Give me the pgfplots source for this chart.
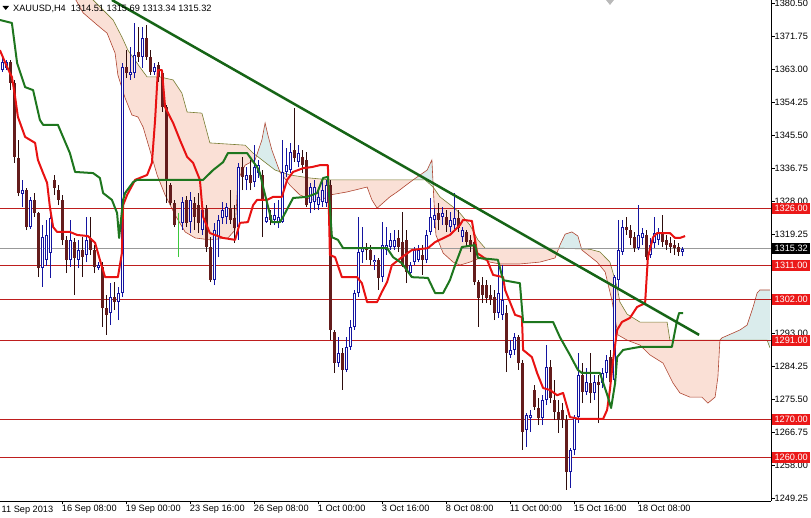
\documentclass[border=0pt]{standalone}
\usepackage{fontspec}
\setmainfont{Liberation Sans}
\usepackage{pgfplots}
\pgfplotsset{compat=1.18}
\usepackage{pgfplotstable}

\definecolor{bullc}{RGB}{20,20,160}
\definecolor{bearbody}{RGB}{100,28,28}
\definecolor{bearwick}{RGB}{45,12,12}
\definecolor{tenkan}{RGB}{232,18,18}
\definecolor{kijun}{RGB}{30,118,30}
\definecolor{trend}{RGB}{22,100,22}
\definecolor{spana}{RGB}{175,70,50}
\definecolor{spanb}{RGB}{120,125,50}
\definecolor{cloudr}{RGB}{250,224,214}
\definecolor{cloudt}{RGB}{218,236,236}
\definecolor{level}{RGB}{190,30,30}
\definecolor{levbox}{RGB}{235,25,25}
\definecolor{dojig}{RGB}{60,200,60}

\newcommand\lbl{\fontsize{9.2}{10}\selectfont}

\pgfplotstableread{
i o h l c
0 1362.7 1365.9 1362.2 1364.9
1 1363.3 1365.4 1362.7 1364.9
5 1329.9 1333.6 1326.4 1330.9
7 1321.1 1329.1 1320.6 1328.3
10 1310.2 1321.6 1305.2 1318.4
11 1312.4 1323.0 1310.8 1319.0
12 1314.2 1324.3 1307.6 1323.5
17 1312.4 1323.0 1310.5 1317.7
19 1312.4 1317.7 1310.2 1315.0
21 1313.7 1323.8 1311.8 1317.7
24 1310.2 1311.8 1309.7 1311.0
27 1298.3 1306.2 1295.1 1302.5
29 1301.2 1305.2 1296.4 1303.6
30 1303.6 1364.6 1302.5 1363.5
32 1361.4 1368.8 1360.1 1362.2
33 1361.9 1375.2 1360.6 1366.7
35 1366.2 1374.1 1363.3 1371.2
38 1362.2 1364.6 1361.4 1363.5
45 1322.2 1329.1 1320.3 1327.7
47 1322.4 1330.4 1319.5 1328.3
50 1320.3 1326.9 1319.0 1325.6
53 1307.0 1322.2 1305.7 1320.3
54 1318.4 1324.3 1313.1 1323.0
55 1323.5 1327.7 1321.9 1325.6
56 1323.8 1327.5 1321.9 1326.4
59 1321.1 1338.1 1317.7 1337.0
61 1333.6 1337.0 1330.9 1334.9
63 1333.0 1342.8 1331.7 1337.0
64 1335.4 1338.9 1334.1 1337.5
66 1322.4 1328.3 1322.2 1323.8
68 1323.0 1327.5 1321.6 1324.3
69 1322.4 1328.3 1320.8 1323.8
70 1322.4 1344.2 1322.2 1335.7
71 1335.7 1342.0 1334.4 1337.5
72 1336.2 1343.4 1335.4 1341.0
74 1338.3 1342.8 1337.0 1340.7
77 1327.5 1332.8 1324.8 1331.7
78 1327.7 1333.6 1325.6 1331.7
79 1326.9 1330.9 1325.6 1329.1
80 1327.7 1333.6 1326.4 1330.9
81 1327.5 1333.6 1326.4 1332.2
84 1285.0 1291.9 1284.0 1287.7
86 1283.2 1291.9 1282.6 1289.3
87 1289.3 1296.4 1288.5 1294.6
88 1294.6 1304.4 1293.8 1303.6
89 1303.6 1323.8 1302.5 1314.5
90 1314.5 1321.1 1311.5 1315.8
93 1311.8 1313.7 1309.7 1312.4
95 1307.8 1322.4 1306.5 1316.3
96 1315.0 1321.1 1313.7 1316.3
97 1315.8 1319.5 1315.0 1317.7
98 1315.8 1320.3 1315.0 1317.7
102 1308.9 1311.8 1307.8 1311.0
103 1311.8 1315.8 1311.0 1315.0
104 1312.4 1316.3 1311.8 1315.0
106 1312.4 1320.3 1311.5 1319.0
107 1319.8 1328.8 1319.0 1323.8
108 1323.0 1326.1 1320.8 1324.3
110 1323.8 1326.4 1321.6 1324.8
112 1321.1 1325.1 1319.8 1323.0
113 1321.6 1330.1 1320.3 1323.5
115 1318.4 1321.1 1317.1 1320.3
124 1298.3 1311.8 1297.0 1303.6
125 1297.8 1311.0 1296.4 1301.7
127 1287.2 1291.1 1286.4 1288.5
128 1288.5 1293.0 1287.2 1291.9
131 1267.3 1271.8 1262.8 1271.2
132 1270.4 1272.6 1266.7 1271.2
135 1270.4 1276.5 1268.6 1275.2
136 1275.2 1289.8 1273.9 1284.0
142 1256.1 1262.5 1251.9 1262.0
143 1262.0 1271.2 1260.6 1270.7
144 1270.7 1287.7 1269.1 1281.9
146 1277.3 1283.7 1276.5 1280.0
148 1277.1 1281.9 1275.2 1280.0
150 1279.7 1283.7 1278.4 1282.4
151 1282.4 1287.2 1281.1 1285.8
153 1280.5 1308.4 1279.2 1307.8
154 1307.0 1323.0 1304.4 1315.0
155 1314.5 1323.0 1313.7 1321.1
159 1315.5 1326.9 1315.0 1319.0
160 1318.2 1320.8 1316.3 1319.5
162 1313.7 1318.2 1312.9 1316.3
163 1316.9 1323.8 1315.5 1319.5
164 1317.7 1320.8 1316.3 1319.5
170 1314.51 1315.69 1313.34 1315.32
}\bull

\pgfplotstableread{
i o h l c
2 1364.9 1365.4 1357.4 1359.3
3 1359.3 1360.1 1338.1 1339.7
4 1339.4 1344.2 1329.3 1330.1
6 1330.9 1331.4 1320.3 1321.1
8 1328.3 1330.1 1323.8 1324.8
9 1324.8 1325.1 1307.8 1310.2
13 1333.6 1334.9 1329.6 1331.4
14 1330.9 1332.2 1326.9 1328.3
15 1328.3 1329.6 1316.3 1317.7
16 1317.7 1318.7 1308.9 1312.4
18 1317.1 1318.2 1303.1 1312.9
20 1315.0 1318.4 1307.8 1313.1
22 1318.2 1323.8 1313.7 1315.0
23 1315.0 1316.3 1308.9 1310.5
25 1310.5 1311.8 1294.6 1299.6
26 1299.6 1303.1 1292.5 1297.8
28 1302.5 1306.5 1299.1 1301.2
31 1363.5 1368.0 1360.6 1361.9
34 1367.5 1374.1 1364.9 1366.2
36 1371.2 1374.7 1365.4 1366.2
37 1366.2 1368.0 1361.4 1362.2
39 1364.1 1364.9 1359.6 1360.9
40 1361.9 1362.7 1351.6 1352.9
41 1352.9 1353.5 1327.5 1333.6
42 1332.2 1332.8 1326.9 1327.5
43 1327.5 1328.3 1321.1 1321.6
46 1328.3 1329.3 1321.1 1322.2
48 1327.5 1329.1 1320.3 1323.8
49 1326.9 1330.1 1319.5 1322.2
51 1326.1 1326.9 1314.5 1315.8
52 1315.8 1318.4 1306.5 1307.0
57 1326.1 1330.9 1321.9 1323.0
58 1323.5 1326.9 1316.9 1320.8
60 1337.0 1339.7 1330.9 1334.4
62 1334.9 1338.9 1330.9 1332.8
65 1334.9 1336.2 1318.4 1328.3
67 1324.3 1325.6 1321.6 1323.0
73 1341.5 1352.7 1338.3 1339.4
75 1339.7 1341.5 1335.4 1337.5
76 1338.9 1341.0 1326.4 1326.9
82 1332.2 1333.6 1291.1 1293.8
83 1293.3 1293.8 1282.4 1285.0
85 1287.7 1289.0 1277.9 1283.2
91 1315.8 1316.9 1312.4 1315.0
92 1315.0 1316.3 1311.0 1312.4
94 1312.4 1312.9 1304.4 1307.6
99 1318.2 1320.3 1314.5 1315.8
100 1317.1 1325.1 1310.5 1311.0
101 1317.7 1320.3 1306.2 1309.2
105 1313.7 1316.3 1308.4 1312.4
109 1324.8 1327.5 1320.3 1323.0
111 1323.8 1325.6 1319.8 1321.6
114 1323.5 1325.6 1319.8 1320.8
116 1319.8 1320.3 1315.8 1317.1
117 1317.7 1319.0 1314.5 1316.3
118 1317.1 1318.4 1305.7 1306.5
119 1306.5 1307.0 1294.6 1302.3
120 1305.7 1307.8 1300.9 1303.1
121 1305.7 1307.0 1300.9 1302.3
122 1303.1 1305.7 1300.4 1301.7
123 1302.5 1304.4 1296.4 1298.3
126 1298.3 1300.4 1282.6 1287.7
129 1291.9 1292.5 1283.2 1285.0
130 1285.0 1285.8 1262.0 1266.7
133 1277.9 1279.2 1272.6 1273.4
134 1273.1 1275.8 1268.6 1270.4
137 1284.0 1285.8 1274.4 1275.8
138 1275.2 1280.5 1269.9 1272.0
139 1272.0 1275.2 1266.5 1269.9
140 1272.6 1274.4 1267.8 1269.9
141 1269.9 1271.2 1251.4 1256.1
145 1281.9 1285.0 1274.4 1277.3
147 1279.7 1287.7 1274.4 1277.1
149 1280.0 1281.9 1269.1 1279.2
152 1286.6 1288.5 1277.9 1280.0
156 1321.1 1323.8 1319.0 1320.3
157 1320.3 1321.6 1316.3 1318.2
158 1318.4 1319.8 1314.5 1315.5
161 1319.0 1320.3 1312.4 1313.1
165 1319.5 1324.3 1315.8 1317.1
166 1317.7 1319.0 1315.0 1316.3
167 1316.9 1318.4 1314.2 1315.8
168 1316.3 1317.7 1313.7 1315.5
169 1315.8 1316.9 1313.4 1314.5
}\bear

\pgfplotstableread{
i o h l c
44 1324.3 1324.8 1313.1 1324.3
}\doji

\begin{document}
\begin{tikzpicture}
\useasboundingbox (0,-17pt) rectangle (811pt,501pt);
\begin{axis}[
  at={(0,0)}, anchor=south west,
  scale only axis, width=771pt, height=501pt,
  xmin=-0.675, xmax=192.075, ymin=1248.45, ymax=1381.3,
  axis x line*=bottom, axis y line*=right,
  axis line style={black, line width=0.8pt},
  clip mode=individual,
  tick align=outside, major tick length=3.5pt,
  tick style={black, line width=0.6pt},
  xtick={15,31,...,159},
  xticklabels={16 Sep 08:00,19 Sep 00:00,23 Sep 16:00,26 Sep 08:00,1 Oct 00:00,3 Oct 16:00,8 Oct 08:00,11 Oct 00:00,15 Oct 16:00,18 Oct 08:00},
  x tick label style={anchor=north west, inner sep=0pt, font=\lbl, xshift=-1pt},
  ytick={1249.25,1258,1266.75,1275.5,1284.25,1293,1301.75,1310.5,1319.25,1328,1336.75,1345.5,1354.25,1363,1371.75,1380.5},
  yticklabels={1249.25,1258.00,1266.75,1275.50,1284.25,1293.00,{},{},1319.25,1328.00,1336.75,1345.50,1354.25,1363.00,1371.75,1380.50},
  y tick label style={anchor=west, inner sep=0pt, font=\lbl},
]
% Ichimoku cloud (between span A and span B)
\addplot[draw=none, fill=cloudr] coordinates {
(18.3,1381.3) (20.1,1377.9) (23.6,1374.7) (26.1,1372.5) (28.1,1367.2) (28.8,1361.4) (30.6,1355.3) (32.3,1350.8) (33.8,1350.3) (35.1,1347.6) (36.8,1341.5) (38.6,1334.9) (40.6,1329.6) (43.1,1324.3) (45.6,1319.8) (48.1,1318.2) (51.8,1317.7) (56.3,1318.2) (58.1,1320.3) (58.8,1333.6) (60.6,1337.5) (63.1,1338.9) (63.45,1340.0)
(62.6,1340.7) (60.6,1342.8) (51.8,1343.4) (49.8,1351.3) (46.1,1351.6) (44.8,1356.6) (42.6,1360.1) (39.3,1360.9) (36.1,1360.9) (34.3,1363.5) (31.3,1368.0) (29.8,1371.5) (27.6,1376.0) (22.6,1381.3) (18.3,1386.6)} -- cycle;
\addplot[draw=none, fill=cloudt] coordinates {
(63.45,1340.0) (64.8,1344.2) (65.6,1348.7) (66.3,1345.5) (67.3,1341.5) (69.2,1335.8) (68.1,1336.2) (64.8,1338.9)} -- cycle;
\addplot[draw=none, fill=cloudr] coordinates {
(69.2,1335.8) (71.8,1332.2) (74.3,1329.6) (77.3,1328.3) (79.8,1328.3) (81.8,1329.6) (86.1,1330.4) (91.1,1331.7) (92.3,1328.3) (93.6,1326.1) (95.1,1327.5) (96.8,1329.1) (98.6,1330.4) (102.6,1333.6)
(81.8,1333.6) (76.8,1334.1) (71.8,1334.9)} -- cycle;
\addplot[draw=none, fill=cloudt] coordinates {
(102.6,1333.6) (106.1,1336.2) (107.3,1338.9) (107.64,1331.7) (105.6,1333.6)} -- cycle;
\addplot[draw=none, fill=cloudr] coordinates {
(107.64,1331.7) (107.8,1328.3) (108.3,1319.0) (110.1,1314.2) (112.6,1311.8) (114.3,1311.0) (116.8,1311.8) (119.3,1312.9) (121.8,1311.8) (124.3,1311.3) (129.3,1311.3) (134.3,1311.8) (138.1,1312.9) (139.0,1315.5)
(120.6,1315.5) (118.8,1317.7) (116.8,1321.6) (114.3,1324.8) (112.6,1326.4) (109.3,1329.1)} -- cycle;
\addplot[draw=none, fill=cloudt] coordinates {
(139.0,1315.5) (139.3,1316.3) (140.6,1319.2) (142.3,1319.8) (143.8,1318.7) (144.7,1315.4) (139.3,1315.5)} -- cycle;
\addplot[draw=none, fill=cloudr] coordinates {
(144.7,1315.4) (144.8,1315.0) (148.6,1311.8) (150.6,1309.2) (152.3,1301.7) (153.8,1292.5) (156.1,1291.1) (159.3,1289.8) (161.8,1287.2) (165.1,1285.0) (167.6,1279.7) (169.3,1277.1) (171.8,1276.0) (174.8,1276.0) (176.3,1274.4) (178.1,1276.0) (178.8,1281.3) (179.3,1291.1)
(166.8,1291.1) (166.1,1295.9) (159.3,1295.9) (156.1,1298.0) (154.3,1301.2) (153.6,1305.2) (151.8,1311.8) (149.3,1314.5) (146.8,1315.2)} -- cycle;
\addplot[draw=none, fill=cloudt] coordinates {
(179.3,1291.1) (179.8,1291.7) (182.6,1293.0) (184.3,1293.8) (186.1,1295.1) (187.6,1299.9) (188.6,1303.6) (189.3,1304.4) (191.8,1304.4) (191.8,1289.1) (191.1,1291.1)} -- cycle;
% span lines
\addplot[spana, line width=0.6pt] coordinates {
(18.3,1381.3) (20.1,1377.9) (23.6,1374.7) (26.1,1372.5) (28.1,1367.2) (28.8,1361.4) (30.6,1355.3) (32.3,1350.8) (33.8,1350.3) (35.1,1347.6) (36.8,1341.5) (38.6,1334.9) (40.6,1329.6) (43.1,1324.3) (45.6,1319.8) (48.1,1318.2) (51.8,1317.7) (56.3,1318.2) (58.1,1320.3) (58.8,1333.6) (60.6,1337.5) (63.1,1338.9) (64.8,1344.2) (65.6,1348.7) (66.3,1345.5) (67.3,1341.5) (69.3,1335.7) (71.8,1332.2) (74.3,1329.6) (77.3,1328.3) (79.8,1328.3) (81.8,1329.6) (86.1,1330.4) (91.1,1331.7) (92.3,1328.3) (93.6,1326.1) (95.1,1327.5) (96.8,1329.1) (98.6,1330.4) (102.6,1333.6) (106.1,1336.2) (107.3,1338.9) (107.8,1328.3) (108.3,1319.0) (110.1,1314.2) (112.6,1311.8) (114.3,1311.0) (116.8,1311.8) (119.3,1312.9) (121.8,1311.8) (124.3,1311.3) (129.3,1311.3) (134.3,1311.8) (138.1,1312.9) (139.3,1316.3) (140.6,1319.2) (142.3,1319.8) (143.8,1318.7) (144.8,1315.0) (148.6,1311.8) (150.6,1309.2) (152.3,1301.7) (153.8,1292.5) (156.1,1291.1) (159.3,1289.8) (161.8,1287.2) (165.1,1285.0) (167.6,1279.7) (169.3,1277.1) (171.8,1276.0) (174.8,1276.0) (176.3,1274.4) (178.1,1276.0) (178.8,1281.3) (179.3,1291.1) (179.8,1291.7) (182.6,1293.0) (184.3,1293.8) (186.1,1295.1) (187.6,1299.9) (188.6,1303.6) (189.3,1304.4) (191.8,1304.4)};
\addplot[spanb, line width=0.6pt] coordinates {
(18.3,1386.6) (22.6,1381.3) (27.6,1376.0) (29.8,1371.5) (31.3,1368.0) (34.3,1363.5) (36.1,1360.9) (39.3,1360.9) (42.6,1360.1) (44.8,1356.6) (46.1,1351.6) (49.8,1351.3) (51.8,1343.4) (60.6,1342.8) (62.6,1340.7) (64.8,1338.9) (68.1,1336.2) (71.8,1334.9) (76.8,1334.1) (81.8,1333.6) (105.6,1333.6) (107.6,1331.7) (109.3,1329.1) (112.6,1326.4) (114.3,1324.8) (116.8,1321.6) (118.8,1317.7) (120.6,1315.5) (139.3,1315.5) (146.8,1315.2) (149.3,1314.5) (151.8,1311.8) (153.6,1305.2) (154.3,1301.2) (156.1,1298.0) (159.3,1295.9) (166.1,1295.9) (166.8,1291.1) (191.1,1291.1) (191.8,1289.1)};

% level lines
\addplot[level, line width=0.8pt] coordinates {(-0.675,1326) (192.075,1326)};
\addplot[level, line width=0.8pt] coordinates {(-0.675,1311) (192.075,1311)};
\addplot[level, line width=0.8pt] coordinates {(-0.675,1302) (192.075,1302)};
\addplot[level, line width=0.8pt] coordinates {(-0.675,1291) (192.075,1291)};
\addplot[level, line width=0.8pt] coordinates {(-0.675,1270) (192.075,1270)};
\addplot[level, line width=0.8pt] coordinates {(-0.675,1260) (192.075,1260)};
\addplot[gray!80, line width=0.8pt] coordinates {(-0.675,1315.32) (192.075,1315.32)};

% candles: wicks
\addplot[draw=none, mark=none, error bars/.cd, y dir=plus, y explicit, error mark=none,
  error bar style={draw=bullc, line width=1pt, solid}]
  table[x=i, y=l, y error plus expr={\thisrow{h}-\thisrow{l}}] {\bull};
\addplot[draw=none, mark=none, error bars/.cd, y dir=plus, y explicit, error mark=none,
  error bar style={draw=bearwick, line width=1pt, solid}]
  table[x=i, y=l, y error plus expr={\thisrow{h}-\thisrow{l}}] {\bear};
\addplot[draw=none, mark=none, error bars/.cd, y dir=plus, y explicit, error mark=none,
  error bar style={draw=dojig, line width=1pt, solid}]
  table[x=i, y=l, y error plus expr={\thisrow{h}-\thisrow{l}}] {\doji};
% bodies
\addplot[draw=none, mark=none, error bars/.cd, y dir=plus, y explicit, error mark=none,
  error bar style={draw=bearbody, line width=3pt, solid}]
  table[x=i, y=c, y error plus expr={\thisrow{o}-\thisrow{c}}] {\bear};
\addplot[draw=none, mark=none, error bars/.cd, y dir=plus, y explicit, error mark=none,
  error bar style={draw=bullc, line width=3pt, solid}]
  table[x=i, y=o, y error plus expr={\thisrow{c}-\thisrow{o}}] {\bull};
\addplot[draw=none, mark=none, error bars/.cd, y dir=plus, y explicit, error mark=none,
  error bar style={draw=white, line width=1.2pt, solid}]
  table[x=i, y expr={\thisrow{o}+0.28}, y error plus expr={max(\thisrow{c}-\thisrow{o}-0.56,0)}] {\bull};

% tenkan
\addplot[tenkan, line width=2pt, line join=round] coordinates {
(-0.7,1368.0) (1.1,1363.5) (2.3,1360.9) (3.1,1355.6) (3.8,1350.3) (5.6,1345.0) (8.1,1343.4) (8.8,1338.9) (10.1,1335.4) (11.1,1332.8) (11.8,1326.4) (12.6,1321.1) (13.6,1319.8) (16.8,1319.8) (18.6,1319.0) (21.3,1318.7) (23.1,1316.9) (24.3,1312.4) (25.6,1307.8) (28.8,1307.8) (29.8,1314.2) (30.1,1326.9) (31.1,1329.6) (33.1,1333.6) (36.1,1334.9) (37.3,1338.1) (38.1,1349.5) (38.8,1362.7) (39.8,1362.7) (40.6,1352.9) (42.6,1348.7) (44.3,1344.2) (46.1,1339.7) (47.6,1338.1) (49.3,1333.6) (50.1,1323.8) (51.8,1319.5) (55.1,1318.2) (58.1,1317.7) (59.3,1322.2) (61.3,1322.4) (62.6,1326.9) (63.6,1328.3) (66.1,1328.3) (67.6,1329.1) (69.8,1329.1) (71.1,1333.6) (72.6,1335.7) (75.1,1336.7) (77.3,1337.0) (79.3,1337.5) (81.3,1337.5) (81.8,1313.7) (83.1,1313.1) (84.8,1307.8) (88.6,1307.8) (89.8,1306.2) (91.1,1301.2) (93.6,1301.2) (94.8,1303.9) (96.1,1306.5) (97.3,1311.0) (99.8,1313.1) (102.3,1315.0) (106.3,1315.5) (108.1,1317.1) (111.8,1319.0) (114.3,1321.6) (115.1,1323.0) (117.3,1322.7) (118.1,1317.7) (118.6,1314.2) (121.1,1312.4) (121.8,1310.5) (122.6,1308.4) (125.1,1307.8) (125.6,1304.4) (128.1,1297.8) (129.8,1297.2) (130.1,1288.5) (132.3,1286.6) (133.6,1282.4) (135.1,1278.4) (136.8,1277.9) (138.6,1276.5) (140.1,1277.1) (141.1,1273.4) (141.8,1270.7) (144.3,1270.2) (150.1,1270.2) (151.1,1272.6) (151.8,1277.9) (152.6,1285.8) (153.6,1293.8) (154.8,1295.9) (156.8,1297.0) (158.6,1299.9) (160.6,1300.9) (161.3,1313.1) (162.6,1318.4) (163.6,1319.5) (166.8,1319.5) (168.1,1318.2) (169.3,1318.2) (170.6,1318.7)};
% kijun
\addplot[kijun, line width=2pt, line join=round] coordinates {
(-0.7,1376.0) (2.3,1375.2) (3.6,1364.6) (5.6,1358.2) (7.6,1357.4) (9.3,1349.5) (10.1,1348.2) (13.8,1348.2) (16.8,1340.7) (18.1,1335.7) (22.6,1335.4) (24.3,1334.1) (25.1,1330.1) (27.3,1328.3) (28.6,1324.8) (29.1,1318.2) (30.1,1328.3) (30.6,1330.1) (32.6,1333.0) (33.6,1333.6) (50.1,1333.6) (52.6,1336.2) (55.1,1338.3) (56.3,1340.7) (61.1,1340.7) (62.3,1338.9) (63.6,1337.0) (64.3,1335.4) (65.1,1331.7) (66.1,1327.5) (67.3,1322.4) (69.3,1322.4) (70.1,1323.8) (72.6,1328.8) (76.1,1329.1) (78.6,1330.1) (80.1,1334.1) (81.3,1334.4) (82.3,1318.4) (83.8,1317.7) (85.1,1315.5) (96.1,1315.5) (97.6,1313.1) (99.8,1311.5) (102.3,1307.8) (106.3,1307.6) (108.1,1303.6) (110.1,1303.6) (111.8,1307.0) (113.1,1311.0) (114.8,1315.8) (118.1,1316.3) (118.8,1312.9) (123.8,1312.4) (125.1,1307.0) (129.3,1306.2) (130.1,1295.9) (137.6,1295.9) (139.3,1291.9) (141.8,1287.2) (143.8,1283.2) (144.8,1282.4) (149.3,1282.4) (151.1,1276.7) (152.1,1273.1) (153.1,1279.7) (153.6,1286.6) (155.1,1288.5) (157.6,1289.0) (159.3,1289.3) (167.3,1289.3) (168.6,1296.4) (169.1,1298.3) (170.1,1298.3)};
% trend line
\addplot[trend, line width=2.5pt] coordinates {(27.3,1381.3) (174.1,1292.5)};

% price labels on the right
\tikzset{lev/.style={fill=levbox, text=white, font=\lbl, inner sep=0pt, minimum width=38pt, minimum height=11pt, anchor=west, xshift=1pt}}
\node[lev] at (axis cs:192.075,1326) {1326.00};
\node[lev] at (axis cs:192.075,1311) {1311.00};
\node[lev] at (axis cs:192.075,1302) {1302.00};
\node[lev] at (axis cs:192.075,1291) {1291.00};
\node[lev] at (axis cs:192.075,1270) {1270.00};
\node[lev] at (axis cs:192.075,1260) {1260.00};
\node[lev, fill=black] at (axis cs:192.075,1315.32) {1315.32};
\end{axis}
\fill[black] (2.5pt,495pt) -- (9pt,495pt) -- (5.75pt,491pt) -- cycle;
\node[anchor=west, inner sep=0pt, font=\lbl] at (13pt,492pt) {XAUUSD,H4\hspace{5pt}1314.51 1315.69 1313.34 1315.32};
\fill[gray!55] (606pt,501pt) -- (614pt,501pt) -- (610pt,496pt) -- cycle;
\node[anchor=north west, inner sep=0pt, font=\lbl] at (1.5pt,-4.5pt) {11 Sep 2013};
\end{tikzpicture}
\end{document}
